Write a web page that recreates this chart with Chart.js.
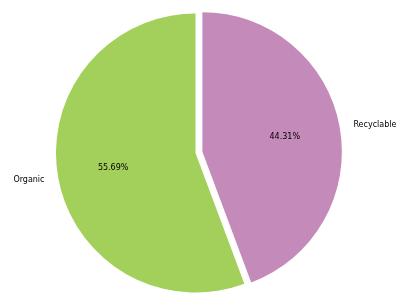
<!DOCTYPE html>
<html>
<head>
<meta charset="utf-8">
<script src="https://cdn.jsdelivr.net/npm/chart.js@4"></script>
<style>
  html, body { margin: 0; padding: 0; background: #fff; }
</style>
</head>
<body>
<canvas id="pie" width="404" height="303"></canvas>
<script>
const categories = ['Recyclable', 'Organic'];
const shares = [44.31, 55.69];
const sliceColors = ['#c48bba', '#a2d05a'];
const explode = [7, 0];

// Chart.js's own offset also grows the arc, so shift the slice centre instead
const explodeSlices = {
    id: 'explodeSlices',
    afterDatasetUpdate(chart, args) {
        args.meta.data.forEach((arc, i) => {
            const mid = (arc.startAngle + arc.endAngle) / 2;
            arc.x += Math.cos(mid) * explode[i];
            arc.y += Math.sin(mid) * explode[i];
        });
    }
};

// matplotlib-style labels: names outside, percentages inside
const pieLabels = {
    id: 'pieLabels',
    afterDatasetsDraw(chart) {
        const ctx = chart.ctx;
        const arcs = chart.getDatasetMeta(0).data;
        ctx.save();
        ctx.font = '8px "DejaVu Sans"';
        ctx.fillStyle = '#000';
        ctx.textBaseline = 'middle';
        arcs.forEach((arc, i) => {
            const mid = (arc.startAngle + arc.endAngle) / 2;
            const r = arc.outerRadius;
            ctx.textAlign = Math.cos(mid) >= 0 ? 'left' : 'right';
            ctx.fillText(categories[i], arc.x + Math.cos(mid) * r * 1.1, arc.y + Math.sin(mid) * r * 1.1);
            ctx.textAlign = 'center';
            ctx.fillText(shares[i].toFixed(2) + '%', arc.x + Math.cos(mid) * r * 0.6, arc.y + Math.sin(mid) * r * 0.6);
        });
        ctx.restore();
    }
};

new Chart(document.getElementById('pie'), {
    type: 'pie',
    data: {
        labels: categories,
        datasets: [{
            data: shares,
            backgroundColor: sliceColors,
            borderWidth: 0,
            hoverOffset: 0
        }]
    },
    options: {
        responsive: false,
        animation: false,
        radius: 139.5,
        layout: { padding: { left: 0, right: 13, top: 3, bottom: 0 } },
        plugins: {
            legend: { display: false },
            tooltip: { enabled: false }
        }
    },
    plugins: [explodeSlices, pieLabels]
});
</script>
</body>
</html>
